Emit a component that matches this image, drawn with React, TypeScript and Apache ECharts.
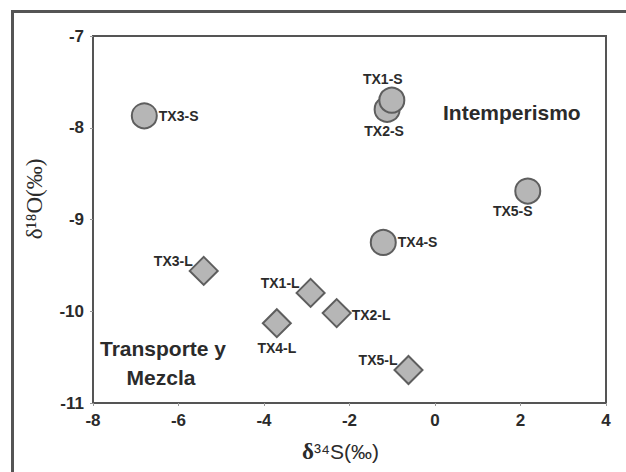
import React, { useEffect, useRef } from "react";
import * as echarts from "echarts";

const xTicks = [-8, -6, -4, -2, 0, 2, 4];
const yTicks = [-11, -10, -9, -8, -7];

// Superficial (S) samples: circles
const sNames = ["TX3-S", "TX2-S", "TX1-S", "TX5-S", "TX4-S"];
const sX = [-6.8, -1.12, -1.01, 2.17, -1.21];
const sY = [-7.87, -7.8, -7.7, -8.69, -9.25];

// L samples: diamonds
const lNames = ["TX3-L", "TX1-L", "TX2-L", "TX4-L", "TX5-L"];
const lX = [-5.41, -2.91, -2.3, -3.7, -0.62];
const lY = [-9.56, -9.8, -10.02, -10.13, -10.64];

const annotations = ["Intemperismo", "Transporte y", "Mezcla"];
const xName = "δ³⁴S(‰)";
const yName = "δ¹⁸O(‰)";

const labelStyle: Record<string, any> = {
  "TX3-S": { position: "right", distance: 1 },
  "TX2-S": { position: "bottom", distance: 1, offset: [-3, 0] },
  "TX1-S": { position: "top", distance: 1, offset: [-9, 0] },
  "TX5-S": { position: "bottom", distance: -1, offset: [-15, 0] },
  "TX4-S": { position: "right", distance: 1 },
  "TX3-L": { position: "left", distance: -4, offset: [0, -10] },
  "TX1-L": { position: "left", distance: -4, offset: [0, -10] },
  "TX2-L": { position: "right", distance: 0, offset: [0, 2] },
  "TX4-L": { position: "bottom", distance: 3 },
  "TX5-L": { position: "left", distance: -4, offset: [0, -10] },
};

const fill = "#b6b6b6";
const stroke = "#5e5e5e";
const textColor = "#2b2b2b";
const sans = "Liberation Sans, Arial, sans-serif";
const serif = "Liberation Serif, Times New Roman, serif";

function buildData(names: string[], xs: number[], ys: number[]) {
  return names.map((n, i) => ({
    name: n,
    value: [xs[i], ys[i]],
    label: {
      show: true,
      formatter: n,
      fontFamily: sans,
      fontWeight: "bold",
      fontSize: 14,
      color: textColor,
      ...labelStyle[n],
    },
  }));
}

export default function App() {
  const ref = useRef<HTMLDivElement>(null);
  useEffect(() => {
    if (!ref.current) return;
    const chart = echarts.init(ref.current, null, { renderer: "svg" });
    const axisLabel = {
      fontFamily: sans,
      fontWeight: "bold",
      fontSize: 17,
      color: textColor,
    };
    const annFont = {
      fontFamily: sans,
      fontWeight: "bold",
      fontSize: 21,
      fill: textColor,
    };
    chart.setOption({
      animation: false,
      backgroundColor: "#ffffff",
      grid: { left: 93, top: 36, right: 20, bottom: 69, show: true, borderColor: "#555555", borderWidth: 2, backgroundColor: "transparent" },
      xAxis: {
        type: "value",
        min: xTicks[0],
        max: xTicks[xTicks.length - 1],
        interval: 2,
        splitLine: { show: false },
        axisLine: { show: true, onZero: false, lineStyle: { color: "#555555", width: 2 } },
        axisTick: { show: true, length: 3, lineStyle: { color: "#999999" } },
        axisLabel: { ...axisLabel, margin: 9 },
        name: "{d|δ}{s|" + xName.slice(1) + "}",
        nameLocation: "middle",
        nameGap: 37,
        nameTextStyle: {
          color: textColor,
          padding: [0, 18, 0, 0],
          rich: {
            d: { fontFamily: serif, fontSize: 23, fontWeight: "bold", color: textColor },
            s: { fontFamily: sans, fontSize: 21, color: textColor },
          },
        },
      },
      yAxis: {
        type: "value",
        min: yTicks[0],
        max: yTicks[yTicks.length - 1],
        interval: 1,
        splitLine: { show: false },
        axisLine: { show: true, onZero: false, lineStyle: { color: "#555555", width: 2 } },
        axisTick: { show: true, length: 3, lineStyle: { color: "#999999" } },
        axisLabel: { ...axisLabel, margin: 9 },
      },
      series: [
        {
          type: "scatter",
          symbol: "circle",
          symbolSize: 25,
          itemStyle: { color: fill, borderColor: stroke, borderWidth: 2, opacity: 1 },
          data: buildData(sNames, sX, sY),
          z: 3,
        },
        {
          type: "scatter",
          symbol: "diamond",
          symbolSize: 28,
          itemStyle: { color: fill, borderColor: stroke, borderWidth: 2, opacity: 1 },
          data: buildData(lNames, lX, lY),
          z: 3,
        },
      ],
      graphic: [
        { type: "rect", shape: { x: 11, y: 10, width: 620, height: 3 }, style: { fill: "#555555" }, silent: true },
        { type: "rect", shape: { x: 11, y: 10, width: 3, height: 470 }, style: { fill: "#555555" }, silent: true },
        {
          type: "text",
          x: 34,
          y: 199,
          rotation: Math.PI / 2,
          style: { text: yName, fontFamily: serif, fontSize: 23, fill: textColor, textAlign: "center", textVerticalAlign: "middle" },
        },
        { type: "text", x: 443, y: 112, style: { text: annotations[0], ...annFont, textAlign: "left", textVerticalAlign: "middle" } },
        { type: "text", x: 163, y: 348, style: { text: annotations[1], ...annFont, textAlign: "center", textVerticalAlign: "middle" } },
        { type: "text", x: 161, y: 377, style: { text: annotations[2], ...annFont, textAlign: "center", textVerticalAlign: "middle" } },
      ],
    });
    return () => chart.dispose();
  }, []);
  return <div ref={ref} style={{ position: "fixed", left: 0, top: 0, width: 626, height: 472 }} />;
}
